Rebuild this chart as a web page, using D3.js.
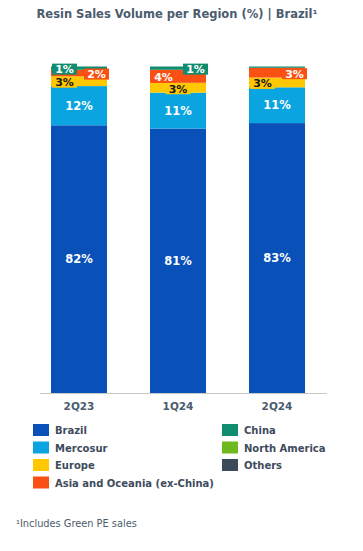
<!DOCTYPE html>
<html>
<head>
<meta charset="utf-8"/>
<script src="https://cdn.jsdelivr.net/npm/d3@7"></script>
<style>
body { margin: 0; background: #fff; }
svg text { font-family: "DejaVu Sans", Verdana, sans-serif; }
</style>
</head>
<body>
<script>
// quarters on the x axis
var quarters = ["2Q23", "1Q24", "2Q24"];
// regions, bottom of stack to top
var regions = ["Brazil", "Mercosur", "Europe", "Asia and Oceania (ex-China)", "China", "North America", "Others"];
// share of volume (%) per quarter, same order as regions
var brazil   = [82, 81, 83];
var mercosur = [12, 11, 11];
var europe   = [3, 3, 3];
var asia     = [2, 4, 3];
var china    = [1, 1, 0.4];
var northAm  = [0, 0, 0];
var others   = [0, 0, 0];
// labels shown in the bars
var labels = {
  "Brazil": ["82%", "81%", "83%"],
  "Mercosur": ["12%", "11%", "11%"],
  "Europe": ["3%", "3%", "3%"],
  "Asia and Oceania (ex-China)": ["2%", "4%", "3%"],
  "China": ["1%", "1%", ""]
};

var colors = {
  "Brazil": "#0a50b9",
  "Mercosur": "#0aa5e0",
  "Europe": "#ffc800",
  "Asia and Oceania (ex-China)": "#fa5014",
  "China": "#128c6e",
  "North America": "#6eb91e",
  "Others": "#3c4b5a"
};

var series = [brazil, mercosur, europe, asia, china, northAm, others];
var rows = quarters.map(function(q, i) {
  var r = {quarter: q};
  regions.forEach(function(k, j) { r[k] = series[j][i]; });
  return r;
});

var W = 363, H = 551;
var svg = d3.select("body").append("svg")
  .attr("width", W).attr("height", H);

svg.append("text")
  .attr("x", 177).attr("y", 18)
  .attr("text-anchor", "middle")
  .style("font-size", "11.5px").style("font-weight", "bold")
  .style("fill", "#4a5c6e")
  .text("Resin Sales Volume per Region (%) | Brazil\u00b9");

var x = d3.scaleBand().domain(quarters)
  .range([29.5, 326.5]).paddingInner(0.434).paddingOuter(0.217);
var y = d3.scaleLinear().domain([0, 1]).range([393, 66.5]);

var stack = d3.stack().keys(regions).offset(d3.stackOffsetExpand);
var stacked = stack(rows);

svg.append("g").selectAll("g")
  .data(stacked).join("g")
  .attr("fill", function(d) { return colors[d.key]; })
  .selectAll("rect")
  .data(function(d) { return d; }).join("rect")
  .attr("x", function(d) { return x(d.data.quarter); })
  .attr("width", x.bandwidth())
  .attr("y", function(d) { return y(d[1]); })
  .attr("height", function(d) { return y(d[0]) - y(d[1]); });

// axis line + category labels
svg.append("line")
  .attr("x1", 40).attr("x2", 327).attr("y1", 393.5).attr("y2", 393.5)
  .attr("stroke", "#c8c8c8").attr("stroke-width", 1);
var xAxis = svg.append("g").attr("transform", "translate(0,393)")
  .call(d3.axisBottom(x).tickSize(0).tickPadding(10));
xAxis.select(".domain").remove();
xAxis.selectAll("text")
  .style("font-size", "10.5px").style("font-weight", "bold")
  .style("fill", "#4a5c6e").style("font-family", "DejaVu Sans, Verdana, sans-serif");

// big labels centred in segment
["Brazil", "Mercosur"].forEach(function(k) {
  var s = stacked.find(function(d) { return d.key === k; });
  s.forEach(function(d, i) {
    svg.append("text")
      .attr("x", x(d.data.quarter) + x.bandwidth() / 2)
      .attr("y", (y(d[0]) + y(d[1])) / 2 + 4)
      .attr("text-anchor", "middle")
      .style("font-size", "11.5px").style("font-weight", "bold")
      .style("fill", "#fff")
      .text(labels[k][i]);
  });
});

// small labels with boxes; alignment inside the bar per quarter
var smallAlign = {
  "Europe": ["left", "center", "left"],
  "Asia and Oceania (ex-China)": ["right", "left", "right"],
  "China": ["left", "right", "none"]
};
["Europe", "Asia and Oceania (ex-China)", "China"].forEach(function(k) {
  var s = stacked.find(function(d) { return d.key === k; });
  s.forEach(function(d, i) {
    var txt = labels[k][i];
    var al = smallAlign[k][i];
    if (!txt || al === "none") return;
    var bw = 25, bh = 11;
    var x0 = x(d.data.quarter), cx;
    if (al === "left") cx = x0 + 1 + bw / 2;
    else if (al === "right") cx = x0 + x.bandwidth() + 2 - bw / 2;
    else cx = x0 + x.bandwidth() / 2;
    var cy = (y(d[0]) + y(d[1])) / 2 + 1;
    svg.append("rect")
      .attr("x", cx - bw / 2).attr("y", cy - bh / 2)
      .attr("width", bw).attr("height", bh)
      .attr("fill", colors[k]);
    svg.append("text")
      .attr("x", cx).attr("y", cy + 4)
      .attr("text-anchor", "middle")
      .style("font-size", "11px").style("font-weight", "bold")
      .style("fill", k === "Europe" ? "#1a1a1a" : "#fff")
      .text(txt);
  });
});

// legend
var col1 = ["Brazil", "Mercosur", "Europe", "Asia and Oceania (ex-China)"];
var col2 = ["China", "North America", "Others"];
function legendCol(keys, lx) {
  keys.forEach(function(k, i) {
    var ly = 430 + i * 17.5;
    svg.append("rect")
      .attr("x", lx).attr("y", ly - 6)
      .attr("width", 16).attr("height", 12)
      .attr("fill", colors[k]);
    svg.append("text")
      .attr("x", lx + 22).attr("y", ly + 4)
      .style("font-size", "10px").style("font-weight", "bold")
      .style("fill", "#3d4b5c")
      .text(k);
  });
}
legendCol(col1, 33);
legendCol(col2, 222);

svg.append("text")
  .attr("x", 16).attr("y", 527)
  .style("font-size", "9.8px")
  .style("fill", "#4b5b6b")
  .text("\u00b9Includes Green PE sales");
</script>
</body>
</html>
